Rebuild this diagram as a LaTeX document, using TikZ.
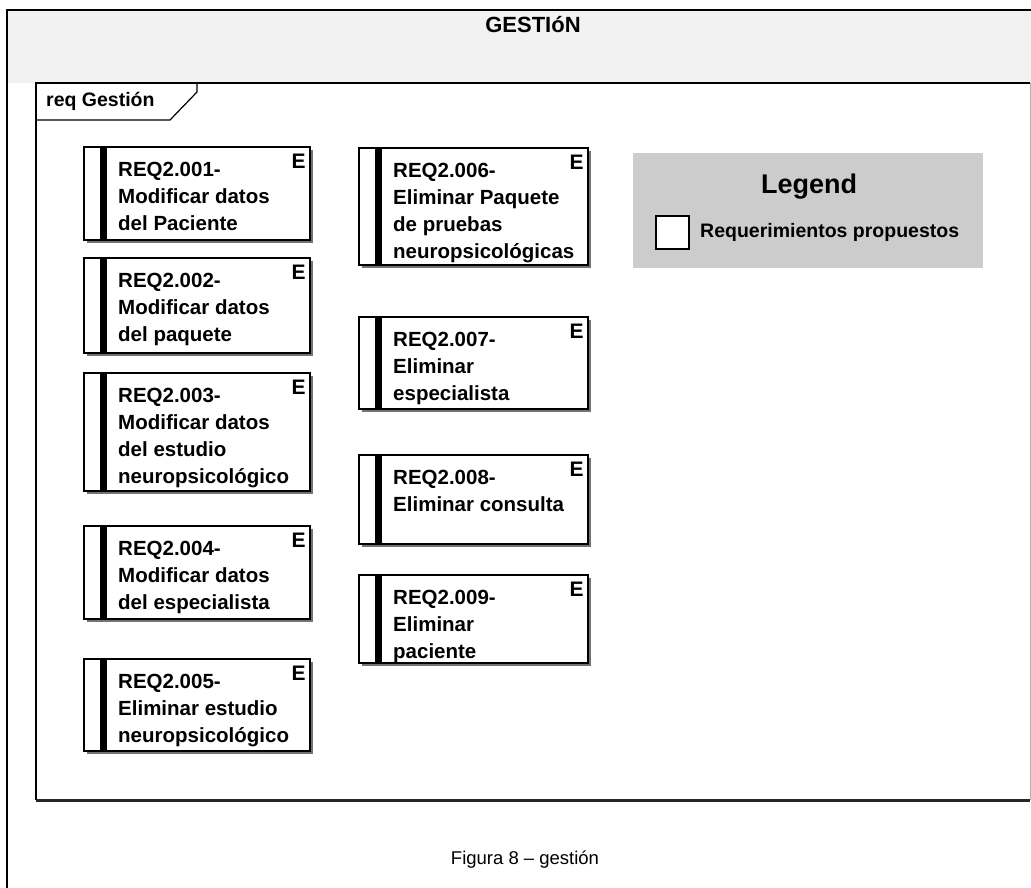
\documentclass[tikz,border=0pt]{standalone}
\usepackage{fontspec}
\setmainfont{Liberation Sans}
\tikzset{
  boxshape/.style={draw=black, line width=1.8pt, fill=white, inner sep=0pt, rectangle},
  shadowc/.style={fill=black!55},
  reqtext/.style={font=\bfseries\fontsize{20.5}{27}\selectfont, align=left, inner sep=0pt},
  etext/.style={font=\bfseries\fontsize{21}{21}\selectfont, inner sep=0pt},
}
\newcommand\reqbox[6]{%
  \fill[shadowc] (#2+4,#3+4) rectangle (#4+4,#5+4);
  \node[boxshape, anchor=north west, minimum width={#4-#2}, minimum height={#5-#3}] (#1) at (#2,#3) {};
  \fill[black] ([xshift=17pt]#1.north west) rectangle ([xshift=24pt]#1.south west);
  \node[reqtext, anchor=north west] (#1t) at ([xshift=35pt,yshift=-16pt]#1.north west) {#6};
  \node[etext, anchor=north east] (#1e) at ([xshift=-5pt,yshift=-8pt]#1.north east) {E};
}
\begin{document}
\begin{tikzpicture}[x=1pt,y=-1pt]
\useasboundingbox (0,0) rectangle (1031,888);
% outer frame / header
\fill[black!5] (7,10) rectangle (1031,83);
\draw[line width=2pt] (1031,10) -- (7,10) -- (7,888);
\node[font=\bfseries\fontsize{22}{22}\selectfont, inner sep=0pt] (title) at (533,25) {GESTIóN};
% inner frame
\node[draw=none, fill=white, anchor=north west, minimum width=994, minimum height=717, inner sep=0pt] (frame) at (36,83) {};
\draw[line width=1.4pt] (frame.north east) -- (frame.north west) -- (frame.south west);
\draw[line width=2.2pt, black!85] (frame.south west) -- (frame.south east);
\draw[line width=1pt, black!30] (frame.north east) -- (frame.south east);
% tab
\draw[line width=1.2pt] (36,120) -- (170,120) -- (197,92) -- (197,83);
\node[font=\bfseries\fontsize{19.5}{20}\selectfont, anchor=west, inner sep=0pt] (tab) at (46,101) {req Gestión};
% requirement boxes, column 1
\reqbox{b1}{83}{146}{309}{239}{REQ2.001-\\Modificar datos\\del Paciente}
\reqbox{b2}{83}{257}{309}{352}{REQ2.002-\\Modificar datos\\del paquete}
\reqbox{b3}{83}{372}{309}{490}{REQ2.003-\\Modificar datos\\del estudio\\neuropsicológico}
\reqbox{b4}{83}{525}{309}{618}{REQ2.004-\\Modificar datos\\del especialista}
\reqbox{b5}{83}{658}{309}{750}{REQ2.005-\\Eliminar estudio\\neuropsicológico}
% column 2
\reqbox{b6}{358}{147}{587}{264}{REQ2.006-\\Eliminar Paquete\\de pruebas\\neuropsicológicas}
\reqbox{b7}{358}{316}{587}{408}{REQ2.007-\\Eliminar\\especialista}
\reqbox{b8}{358}{454}{587}{543}{REQ2.008-\\Eliminar consulta}
\reqbox{b9}{358}{574}{587}{662}{REQ2.009-\\Eliminar\\paciente}
% legend
\node[fill=black!20, anchor=north west, minimum width=350, minimum height=115, inner sep=0pt] (legend) at (633,153) {};
\node[font=\bfseries\fontsize{27}{27}\selectfont, inner sep=0pt] (legtitle) at (809,187) {Legend};
\node[draw=black, line width=2pt, fill=white, minimum width=33, minimum height=33, inner sep=0pt] (legbox) at (672,232.5) {};
\node[font=\bfseries\fontsize{19.5}{20}\selectfont, anchor=west, inner sep=0pt] (legtext) at (700,232) {Requerimientos propuestos};
% caption
\node[font=\fontsize{18.5}{19}\selectfont, inner sep=0pt] (caption) at (525,860) {Figura 8 – gestión};
\end{tikzpicture}
\end{document}
